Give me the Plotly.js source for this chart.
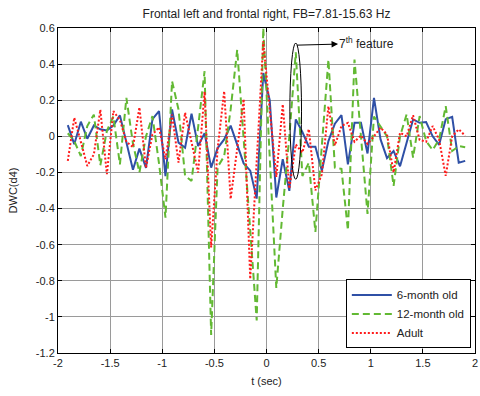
<!DOCTYPE html>
<html>
<head>
<meta charset="utf-8">
<script src="https://cdn.plot.ly/plotly-3.0.1.min.js"></script>
<style>html,body{margin:0;padding:0;background:#fff;}#chart{width:480px;height:396px;}</style>
</head>
<body>
<div id="chart"></div>
<script>
const t = [-1.906, -1.844, -1.781, -1.719, -1.656, -1.594, -1.531, -1.469, -1.406, -1.344,
  -1.281, -1.219, -1.156, -1.094, -1.031, -0.969, -0.906, -0.844, -0.781, -0.719,
  -0.656, -0.594, -0.531, -0.469, -0.406, -0.344, -0.281, -0.219, -0.156, -0.094,
  -0.031, 0.031, 0.094, 0.156, 0.219, 0.281, 0.344, 0.406, 0.469, 0.531,
  0.594, 0.656, 0.719, 0.781, 0.844, 0.906, 0.969, 1.031, 1.094, 1.156,
  1.219, 1.281, 1.344, 1.406, 1.469, 1.531, 1.594, 1.656, 1.719, 1.781,
  1.844, 1.906];

const month6 = [0.062, -0.044, 0.081, -0.013, 0.06, 0.039, 0.033, 0.06, 0.116, -0.03,
  -0.185, -0.068, -0.175, 0.095, 0.14, -0.22, 0.149, -0.035, -0.063, 0.125,
  -0.054, 0.018, -0.173, -0.065, -0.017, 0.059, -0.047, -0.15, -0.19, -0.345,
  0.351, 0.2, -0.339, -0.127, -0.302, 0.094, 0.024, -0.057, -0.057, -0.19,
  -0.026, 0.07, 0.118, -0.155, 0.075, 0.075, -0.095, 0.213, -0.017, -0.12,
  -0.081, -0.166, -0.035, 0.094, 0.075, 0.079, 0.0, -0.047, 0.095, 0.108,
  -0.146, -0.136];

const month12 = [0.017, -0.026, -0.109, 0.057, 0.12, -0.16, 0.03, 0.11, -0.155, 0.213,
  -0.04, -0.2, 0.0, 0.112, -0.15, -0.45, 0.306, 0.149, -0.219, -0.247,
  0.05, 0.361, -1.1, -0.17, -0.11, 0.149, 0.48, -0.02, -0.52, -1.02,
  0.6, -0.1, -0.84, -0.4, 0.0, 0.465, -0.22, -0.146, -0.53, -0.05,
  0.425, -0.173, -0.18, -0.52, 0.425, 0.0, -0.43, 0.11, 0.057, 0.0,
  -0.275, 0.0, 0.122, -0.118, 0.112, -0.026, -0.076, -0.017, 0.167, -0.081,
  -0.054, -0.06];

const adult = [-0.136, 0.103, -0.03, -0.164, -0.1, 0.147, -0.21, 0.14, 0.09, -0.03,
  -0.06, 0.16, -0.175, 0.01, 0.05, -0.127, 0.12, -0.146, 0.131, -0.04,
  -0.2, 0.247, -0.615, -0.07, 0.25, -0.347, -0.07, 0.206, -0.79, -0.13,
  0.527, 0.15, -0.225, 0.177, -0.29, -0.045, -0.09, 0.04, -0.3, -0.21,
  0.167, -0.05, 0.057, 0.075, -0.03, 0.005, -0.042, 0.0, 0.048, 0.011,
  -0.2, 0.02, 0.0, 0.117, -0.02, -0.03, 0.057, -0.02, -0.219, 0.0,
  0.039, 0.003];

const seriesNames = ['6-month old', '12-month old', 'Adult'];
const xTickVals = [-2, -1.5, -1, -0.5, 0, 0.5, 1, 1.5, 2];
const xTickText = ['-2', '-1.5', '-1', '-0.5', '0', '0.5', '1', '1.5', '2'];
const yTickVals = [0.6, 0.4, 0.2, 0, -0.2, -0.4, -0.6, -0.8, -1, -1.2];
const yTickText = ['0.6', '0.4', '0.2', '0', '-0.2', '-0.4', '-0.6', '-0.8', '-1', '-1.2'];

const font = 'Arial, "Liberation Sans", Helvetica, sans-serif';

const traces = [
  {x: t, y: month6, name: seriesNames[0], mode: 'lines', type: 'scatter',
   line: {color: '#2f50a6', width: 2}},
  {x: t, y: month12, name: seriesNames[1], mode: 'lines', type: 'scatter',
   line: {color: '#62b933', width: 2, dash: '7px,4px'}},
  {x: t, y: adult, name: seriesNames[2], mode: 'lines', type: 'scatter',
   line: {color: '#ff1a1a', width: 2, dash: '2px,2px'}}
];

const axisCommon = {
  showline: true, mirror: 'ticks', linecolor: '#000', linewidth: 1,
  ticks: 'inside', ticklen: 4, tickcolor: '#000', tickwidth: 1,
  showgrid: true, gridcolor: '#9a9a9a', gridwidth: 1,
  zeroline: false, tickfont: {family: font, size: 11, color: '#222'}
};

const layout = {
  width: 480, height: 396,
  margin: {l: 58, r: 5, t: 28, b: 43},
  paper_bgcolor: '#fff', plot_bgcolor: '#fff',
  font: {family: font, size: 11, color: '#222'},
  title: {text: 'Frontal left and frontal right, FB=7.81-15.63 Hz',
          font: {family: font, size: 12, color: '#222'},
          xref: 'paper', x: 0.5, xanchor: 'center',
          yref: 'container', y: 0.965, yanchor: 'middle'},
  xaxis: Object.assign({}, axisCommon, {
    range: [-2, 2], tickmode: 'array', tickvals: xTickVals, ticktext: xTickText,
    title: {text: 't (sec)', font: {family: font, size: 11, color: '#222'}, standoff: 9}
  }),
  yaxis: Object.assign({}, axisCommon, {
    range: [-1.2, 0.6], tickmode: 'array', tickvals: yTickVals, ticktext: yTickText,
    title: {text: 'DWC(d4)', font: {family: font, size: 11, color: '#222'}, standoff: 15}
  }),
  showlegend: true,
  legend: {x: 0.99, y: 0.014, xanchor: 'right', yanchor: 'bottom',
           bgcolor: '#fff', bordercolor: '#000', borderwidth: 1, itemwidth: 40,
           font: {family: font, size: 11.5, color: '#222'}, tracegroupgap: 0},
  shapes: [
    {type: 'circle', xref: 'x', yref: 'y', x0: 0.224, x1: 0.336, y0: -0.238, y1: 0.517,
     line: {color: '#000', width: 1}}
  ],
  annotations: [
    {xref: 'x', yref: 'y', axref: 'x', ayref: 'y',
     x: 0.294, y: 0.505, ax: 0.955, ay: 0.515,
     xanchor: 'center', yanchor: 'middle',
     text: '7<sup>th</sup> feature', showarrow: true, arrowside: 'start',
     arrowhead: 2, startarrowhead: 2, startarrowsize: 1.3, arrowsize: 1.3, arrowwidth: 1, arrowcolor: '#000',
     borderpad: 0, font: {family: font, size: 12, color: '#222'}}
  ]
};

Plotly.newPlot('chart', traces, layout, {displayModeBar: false, staticPlot: true});
</script>
</body>
</html>
